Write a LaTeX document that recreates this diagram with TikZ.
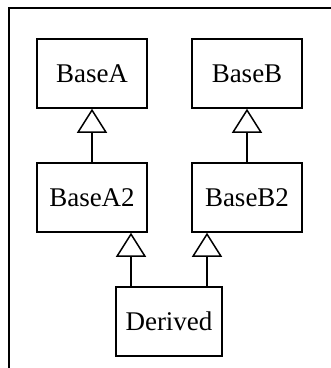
\documentclass[tikz,border=0pt]{standalone}
\usepackage{fontspec}
\setmainfont{Liberation Serif}
\usetikzlibrary{arrows.meta}
\begin{document}
\begin{tikzpicture}[x=1pt,y=1pt,
  cls/.style={draw, line width=1.5pt, minimum width=110pt, minimum height=69pt, inner sep=0pt, font=\fontsize{27}{30}\selectfont},
  inh/.style={line width=1.5pt, -{Triangle[open, width=30pt, length=24pt, line width=1.5pt]}}]
\useasboundingbox (0,0) rectangle (331,-368);
\draw[line width=1.5pt] (331,-8) -- (9,-8) -- (9,-368);
\node[cls] (ba) at (92,-73.5) {BaseA};
\node[cls] (bb) at (247,-73.5) {BaseB};
\node[cls] (ba2) at (92,-197.5) {BaseA2};
\node[cls] (bb2) at (247,-197.5) {BaseB2};
\node[cls, minimum width=106pt] (d) at (169,-321.5) {Derived};
\draw[inh] (ba2) -- (ba);
\draw[inh] (bb2) -- (bb);
\draw[inh] ([xshift=-38pt]d.north) -- ([xshift=-38pt]d.north |- ba2.south);
\draw[inh] ([xshift=38pt]d.north) -- ([xshift=38pt]d.north |- bb2.south);
\end{tikzpicture}
\end{document}
